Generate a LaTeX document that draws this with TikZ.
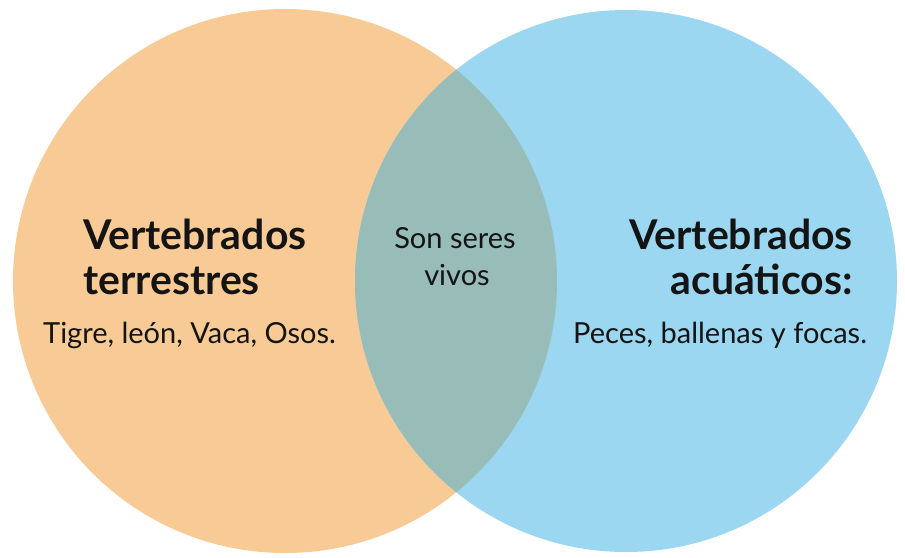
\documentclass[tikz,border=0pt]{standalone}
\usepackage{fontspec}
\setmainfont{Lato}
\definecolor{orangefill}{HTML}{F8CB96}
\definecolor{bluefill}{HTML}{9BD7F0}
\definecolor{overlapfill}{HTML}{98BCB8}
\definecolor{textcol}{HTML}{141414}
\begin{document}
\begin{tikzpicture}[x=1pt,y=-1pt,
  head/.style={font=\bfseries\fontsize{41}{45}\selectfont, inner sep=0pt, text=textcol},
  body/.style={font=\fontsize{29}{33}\selectfont, inner sep=0pt, text=textcol}]
\useasboundingbox (0,0) rectangle (905,557);
\fill[orangefill] (285,281) circle[radius=272];
\fill[bluefill] (626,281) circle[radius=271];
\begin{scope}
\clip (285,281) circle[radius=272];
\fill[overlapfill] (626,281) circle[radius=271];
\end{scope}
\node[head, anchor=base west] (lh1) at (83,249) {Vertebrados};
\node[head, anchor=base west] (lh2) at (83,294) {terrestres};
\node[body, anchor=base west] (lb) at (43,343) {Tigre, león, Vaca, Osos.};
\node[head, anchor=base east] (rh1) at (853,249) {Vertebrados};
\node[head, anchor=base east] (rh2) at (853,294) {acuáticos:};
\node[body, anchor=base west] (rb) at (573,343) {Peces, ballenas y focas.};
\node[body, anchor=base] (m1) at (455,248) {Son seres};
\node[body, anchor=base] (m2) at (457,285) {vivos};
\end{tikzpicture}
\end{document}
